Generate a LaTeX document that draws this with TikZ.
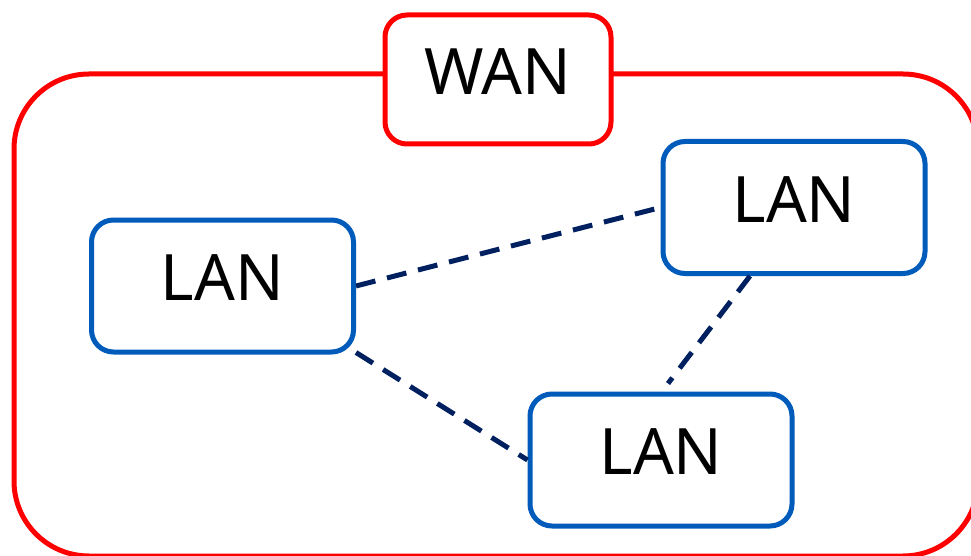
\documentclass[tikz,border=0pt]{standalone}
\usepackage{fontspec}
\setmainfont{Noto Sans}
\usetikzlibrary{positioning,calc}
\definecolor{wanred}{RGB}{255,0,0}
\definecolor{lanblue}{RGB}{0,91,187}
\definecolor{linknavy}{RGB}{0,32,96}
\tikzset{font=\fontsize{64}{64}\selectfont}

\begin{document}
\begin{tikzpicture}[x=1pt, y=-1pt]
	\useasboundingbox (0, 0) rectangle (971, 556);
	\clip (0, 0) rectangle (971, 556);
	\begin{scope}
		\tikzstyle{every node}=[align=center, inner sep=0pt, text depth=16pt, line width=5pt, rounded corners=22pt, fill=white]
		\tikzstyle{lan}=[draw=lanblue, minimum width=262pt, minimum height=132pt]
		\tikzstyle{wan}=[draw=wanred, minimum width=226pt, minimum height=129pt]
		\tikzstyle{link}=[draw=linknavy, line width=5pt, dash pattern=on 20pt off 12pt]

		\draw [wanred, line width=5pt, rounded corners=75pt] (14, 74) rectangle (978, 556);

		\node [wan] (wan) at (498, 79.5) {WAN};
		\node [lan] (lanl) at (222.5, 286) {LAN};
		\node [lan] (lanr) at (794, 207.5) {LAN};
		\node [lan] (lanb) at (661, 460) {LAN};

		\coordinate (endb) at ($(lanb.north)+(7, -8)$);

		\draw [link] (lanl.east) -- (lanr.west);
		\draw [link] ($(lanl.south east)+(0, -2)$) -- (lanb.west);
		\draw [link] ($(lanr.south)+(-44, 0)$) -- (endb);
	\end{scope}
\end{tikzpicture}
\end{document}
